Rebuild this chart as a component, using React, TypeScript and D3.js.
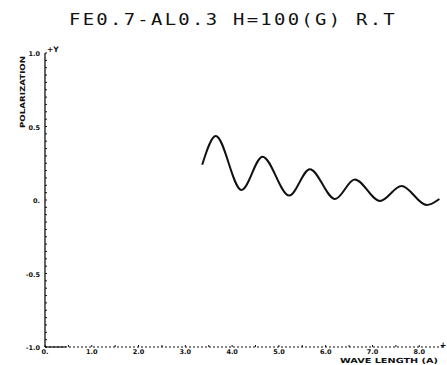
import React from "react";
import * as d3 from "d3";

const title = "FE0.7-AL0.3 H=100(G) R.T";
const yLabel = "POLARIZATION";
const xLabel = "WAVE LENGTH (A)";

const xTicks = [0, 1, 2, 3, 4, 5, 6, 7, 8];
const xTickLabels = ["0.", "1.0", "2.0", "3.0", "4.0", "5.0", "6.0", "7.0", "8.0"];
const yTicks = [1, 0.5, 0, -0.5, -1];
const yTickLabels = ["1.0", "0.5", "0.", "-0.5", "-1.0"];

const waveLength = [3.36, 3.65, 4.2, 4.65, 5.22, 5.66, 6.2, 6.62, 7.16, 7.62, 8.16, 8.43];
const polarization = [0.24, 0.435, 0.068, 0.295, 0.03, 0.21, 0.007, 0.14, -0.007, 0.095, -0.034, 0.007];

export default function App() {
  const W = 447, H = 365;
  const x = d3.scaleLinear().domain([0, 8.55]).range([45, 445]);
  const y = d3.scaleLinear().domain([-1, 1]).range([347, 53]);
  const line = d3
    .line<number>()
    .x((_, i) => x(waveLength[i]))
    .y((d) => y(d))
    .curve(d3.curveMonotoneX);
  const minorY = d3.range(-1, 1.0001, 0.05);
  const minorX = d3.range(0, 8.51, 0.5);
  const bold = { fontFamily: "DejaVu Sans, sans-serif", fontWeight: 700, fontSize: 6.5 } as const;
  return (
    <svg width={W} height={H} style={{ position: "absolute", left: 0, top: 0, background: "#fff" }}>
      <text
        x={233}
        y={25}
        textAnchor="middle"
        fontFamily="DejaVu Sans Mono, monospace"
        fontSize={16.5}
        letterSpacing={2}
        textLength={328}
        lengthAdjust="spacingAndGlyphs"
        fill="#111"
      >
        {title}
      </text>
      <text
        transform="translate(25,92) rotate(-90)"
        textAnchor="middle"
        {...bold}
        fontSize={7}
        textLength={72}
        lengthAdjust="spacingAndGlyphs"
        fill="#111"
      >
        {yLabel}
      </text>
      {/* y axis */}
      <line x1={x(0)} x2={x(0)} y1={y(1)} y2={y(-1)} stroke="#111" strokeWidth={1.3} />
      {minorY.map((v, i) => (
        <line key={"my" + i} x1={x(0)} x2={x(0) + 2} y1={y(v)} y2={y(v)} stroke="#111" strokeWidth={1} />
      ))}
      {yTicks.map((v, i) => (
        <text key={"yt" + i} x={x(0) - 5} y={y(v) + 3} textAnchor="end" {...bold} fill="#111">
          {yTickLabels[i]}
        </text>
      ))}
      <text x={x(0) + 2} y={y(1) - 1} {...bold} fontSize={7.5} fill="#111">+Y</text>
      {/* x axis */}
      <line x1={x(0)} x2={443} y1={y(-1)} y2={y(-1)} stroke="#111" strokeWidth={1.2} strokeDasharray="2 2" />
      <line x1={x(0)} x2={x(0.45)} y1={y(-1)} y2={y(-1)} stroke="#111" strokeWidth={1.2} />
      {minorX.map((v, i) => (
        <line key={"mx" + i} x1={x(v)} x2={x(v)} y1={y(-1)} y2={y(-1) - 2} stroke="#111" strokeWidth={1} />
      ))}
      {xTicks.map((v, i) => (
        <text key={"xt" + i} x={x(v)} y={354} textAnchor="middle" {...bold} fill="#111">
          {xTickLabels[i]}
        </text>
      ))}
      <text x={443} y={348} textAnchor="middle" {...bold} fontSize={8} fill="#111">+</text>
      <text x={389} y={362.5} textAnchor="middle" {...bold} fontSize={7} textLength={98} lengthAdjust="spacingAndGlyphs" fill="#111">
        {xLabel}
      </text>
      <path d={line(polarization) || ""} fill="none" stroke="#111" strokeWidth={2} strokeLinejoin="round" />
    </svg>
  );
}
